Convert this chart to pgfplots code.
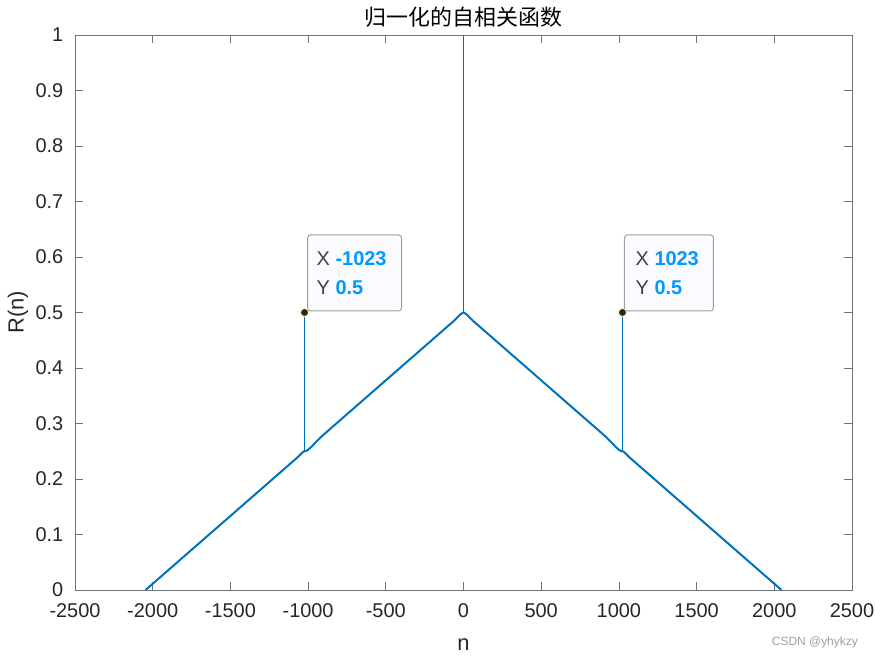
\documentclass[border=0pt]{standalone}
\usepackage{fontspec}
\setmainfont{Liberation Sans}
\newfontfamily\cjk{Noto Sans CJK SC}
\usepackage{pgfplots}
\pgfplotsset{compat=1.18}
\definecolor{mline}{rgb}{0,0.447,0.741}
\definecolor{axtext}{rgb}{0.15,0.15,0.15}
\definecolor{axline}{rgb}{0.45,0.45,0.45}
\definecolor{tipblue}{rgb}{0,0.6,1}
\definecolor{tipgray}{rgb}{0.25,0.25,0.25}
\definecolor{tipfill}{rgb}{0.98,0.98,1}
\definecolor{tipedge}{rgb}{0.62,0.62,0.62}
\begin{document}
\begin{tikzpicture}
\useasboundingbox (0,0) rectangle (875bp,656bp);
\begin{axis}[
  at={(75bp,66bp)}, anchor=south west,
  scale only axis, width=777bp, height=555bp,
  xmin=-2500, xmax=2500, ymin=0, ymax=1,
  xtick={-2500,-2000,-1500,-1000,-500,0,500,1000,1500,2000,2500},
  xticklabels={-2500,-2000,-1500,-1000,-500,0,500,1000,1500,2000,2500},
  ytick={0,0.1,0.2,0.3,0.4,0.5,0.6,0.7,0.8,0.9,1},
  yticklabels={0,0.1,0.2,0.3,0.4,0.5,0.6,0.7,0.8,0.9,1},
  xtick pos=both, ytick pos=both,
  tick align=inside, major tick length=8bp,
  axis line style={draw=axline, line width=0.8bp},
  every tick/.style={draw=axline, line width=0.8bp},
  tick label style={font=\fontsize{20}{24}\selectfont, text=axtext},
  xticklabel style={anchor=north, inner sep=0pt, yshift=-13bp},
  yticklabel style={anchor=east, inner sep=0pt, xshift=-11.5bp},
  xlabel={n},
  ylabel={R(n)},
  every axis x label/.style={at={([yshift=-60bp]axis description cs:0.5,0)}, anchor=base, font=\fontsize{22}{26}\selectfont, text=axtext},
  every axis y label/.style={at={([xshift=-57bp]axis description cs:0,0.5)}, anchor=center, rotate=90, font=\fontsize{22}{26}\selectfont, text=axtext},
  title={\cjk 归一化的自相关函数},
  every axis title/.style={at={([yshift=9bp]axis description cs:0.5,1)}, anchor=base, font=\fontsize{22}{26}\selectfont, text=black},
]
% triangular envelope (noisy in the original)
\addplot[mline, line width=2bp, line join=round] coordinates {
  (-2046,0) (-1500,0.1334) (-1100,0.2312) (-1070,0.2385) (-1045,0.2455)
  (-1030,0.2492) (-1023,0.2500) (-1015,0.2504) (-1000,0.2525) (-975,0.2590)
  (-950,0.2665) (-925,0.2735) (-900,0.2800) (-500,0.3778) (-60,0.4853) (-35,0.4925)
  (-18,0.4970) (-6,0.4992) (0,0.5000)
  (6,0.4992) (18,0.4970) (35,0.4925) (60,0.4853) (500,0.3778)
  (900,0.2800) (925,0.2735) (950,0.2665) (975,0.2590) (1000,0.2525) (1015,0.2504)
  (1023,0.2500) (1030,0.2492) (1045,0.2455) (1070,0.2385) (1100,0.2312)
  (1500,0.1334) (2046,0)
};
% spikes
\addplot[mline, line width=1.3bp] coordinates {(-1023,0.25) (-1023,0.5)};
\addplot[mline, line width=1.3bp] coordinates {(0,0.5) (0,1)};
\addplot[mline, line width=1.3bp] coordinates {(1023,0.25) (1023,0.5)};
% data tips
\addplot[only marks, mark=*, mark size=4bp, mark options={fill=axtext, draw=yellow!45!white, line width=0.8bp}] coordinates {(-1023,0.5) (1023,0.5)};
\draw[draw=tipedge, fill=tipfill, line width=1bp, rounded corners=3bp]
  ([shift={(3bp,1.5bp)}]axis cs:-1023,0.5) rectangle ++(94bp,76bp);
\node[anchor=base west, inner sep=0pt, font=\fontsize{20}{24}\selectfont]
  at ([shift={(12bp,47bp)}]axis cs:-1023,0.5) {\textcolor{tipgray}{X} \textcolor{tipblue}{\textbf{-1023}}};
\node[anchor=base west, inner sep=0pt, font=\fontsize{20}{24}\selectfont]
  at ([shift={(12bp,18bp)}]axis cs:-1023,0.5) {\textcolor{tipgray}{Y} \textcolor{tipblue}{\textbf{0.5}}};
\draw[draw=tipedge, fill=tipfill, line width=1bp, rounded corners=3bp]
  ([shift={(2bp,1.5bp)}]axis cs:1023,0.5) rectangle ++(89bp,76bp);
\node[anchor=base west, inner sep=0pt, font=\fontsize{20}{24}\selectfont]
  at ([shift={(13bp,47bp)}]axis cs:1023,0.5) {\textcolor{tipgray}{X} \textcolor{tipblue}{\textbf{1023}}};
\node[anchor=base west, inner sep=0pt, font=\fontsize{20}{24}\selectfont]
  at ([shift={(13bp,18bp)}]axis cs:1023,0.5) {\textcolor{tipgray}{Y} \textcolor{tipblue}{\textbf{0.5}}};
\end{axis}
\node[anchor=base east, inner sep=0pt, font=\fontsize{12}{14}\selectfont, text=gray!75] at (858bp,11bp) {CSDN @yhykzy};
\end{tikzpicture}
\end{document}
